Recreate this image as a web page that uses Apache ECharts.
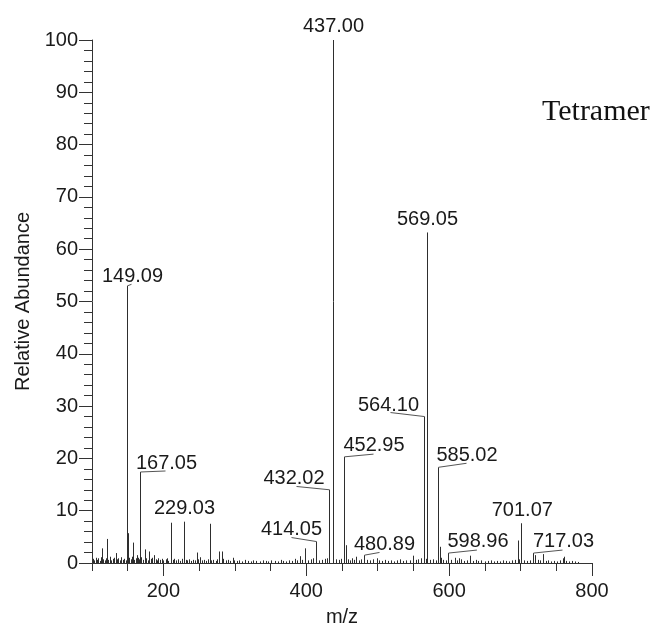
<!DOCTYPE html>
<html>
<head>
<meta charset="utf-8">
<script src="https://cdn.jsdelivr.net/npm/echarts@6/dist/echarts.min.js"></script>
<style>html,body{margin:0;padding:0;background:#fff}#c{width:657px;height:628px}</style>
</head>
<body>
<div id="c"></div>
<script>
// ---------- DATA ----------
const xTickLabels = [200, 400, 600, 800];
const yTickLabels = [0, 10, 20, 30, 40, 50, 60, 70, 80, 90, 100];

// labelled peaks (m/z, relative abundance)
const labeledMz    = [149.09, 167.05, 229.03, 414.05, 432.02, 437.00, 452.95, 480.89, 564.10, 569.05, 585.02, 598.96, 701.07, 717.03];
const labeledAbund = [53.0,   17.4,   7.9,    4.1,    14.0,   100,    20.3,   1.5,    28.0,   63.2,   18.3,   1.9,    7.6,    1.9];

// other visible (unlabelled) peaks
const minorMz    = [114.5, 121, 133, 150.1, 157.5, 162.6, 173.8, 180, 187, 211, 246.7, 265, 278, 281.4, 296.8, 391, 398, 438, 455, 470, 498.4, 545, 549.8, 587, 588.5, 608, 614, 629, 695.7, 720.5, 731, 759, 761];
const minorAbund = [2.8,   4.6, 1.9, 5.7,   3.9,   1.5,   2.6,   2.2, 1.5, 7.7, 2.0,   7.5, 2.2, 2.2,   1.0,   1.3, 2.8, 16,  3.4, 1.2, 0.9,   0.5, 1.4,   3.1, 1.0,   1.0, 0.9, 1.4, 4.3,   1.5,   1.7, 0.9, 1.2];

// baseline noise (grass)
const noiseMz = [101,103,105,107,109,111,113,116,118,120,123,125,127,129,131,135,137,139,141,143,145,147,152,154,156,159,161,164,166,169,171,176,178,182,184,189,191,193,195,198,200,203,205,207,213,215,218,220,223,226,231,233,236,239,241,244,249,251,254,257,259,262,267,270,273,275,284,287,290,293,299,
  303,306,310,314,318,322,326,330,335,339,343,347,351,356,360,364,368,372,376,380,384,387,394,402,406,410,418,422,426,429,441,446,449,458,461,464,467,474,477,485,489,493,502,506,510,514,519,523,527,531,535,540,553,557,561,567,573,577,581,591,595,603,611,617,621,625,633,637,641,645,650,654,658,663,667,671,675,680,684,688,692,698,705,709,713,724,727,735,739,743,747,751,755,764,768,772,776,780];
const noiseAbund = [0.8,0.5,1.0,0.6,0.9,0.4,1.1,0.7,0.5,0.9,0.6,1.2,0.5,0.8,1.0,0.7,0.9,0.5,1.1,0.6,0.8,0.5,1.0,0.7,1.2,0.6,0.9,1.0,0.7,1.1,0.6,0.9,0.5,0.8,1.0,0.7,0.5,0.9,0.6,0.8,0.5,0.7,0.9,0.4,0.6,0.8,0.5,0.7,0.4,0.8,0.6,0.5,0.7,0.4,0.6,0.5,0.7,1.1,0.5,0.6,0.4,0.7,0.5,0.6,0.4,0.7,0.8,0.5,0.6,0.4,0.5,
  0.4,0.5,0.3,0.6,0.4,0.3,0.5,0.4,0.3,0.5,0.4,0.3,0.5,0.4,0.3,0.6,0.4,0.3,0.5,0.4,0.8,0.5,0.6,0.5,0.7,0.9,0.5,0.6,0.8,0.9,0.7,0.6,0.8,0.7,0.5,0.9,0.6,0.5,0.7,0.6,0.5,0.7,0.5,0.4,0.6,0.4,0.5,0.3,0.5,0.7,0.4,0.5,0.6,0.7,0.9,0.8,0.6,0.7,0.5,0.6,0.5,0.6,0.5,0.7,0.4,0.5,0.4,0.6,0.4,0.5,0.3,0.4,0.5,0.3,0.4,0.3,0.5,0.4,0.3,0.5,0.6,0.7,0.5,0.4,0.5,0.6,0.5,0.4,0.5,0.3,0.4,0.3,0.5,0.4,0.3,0.4,0.3,0.2];

// ---------- LAYOUT / STYLE (label placement relative to peak top, px) ----------
const annotationLayout = {
  '149.09': {leader: [4, -1.5],   text: [5, -9.5]},
  '167.05': {leader: [25, -1],    text: [26, -8.5]},
  '229.03': {leader: null,        text: [0, -13.4]},
  '414.05': {leader: [-25, -4],   text: [-25, -11.7]},
  '432.02': {leader: [-33, -3.3], text: [-35.5, -11.3]},
  '437.00': {leader: null,        text: [0, -13.3]},
  '452.95': {leader: [29, -2.7],  text: [29.5, -11.2]},
  '480.89': {leader: [15, -2.7],  text: [20, -11]},
  '564.10': {leader: [-34, -4],   text: [-36, -11.4]},
  '569.05': {leader: null,        text: [0, -12.6]},
  '585.02': {leader: [28, -4],    text: [28.5, -12]},
  '598.96': {leader: [28.4, -3],  text: [29.5, -11.5]},
  '701.07': {leader: null,        text: [0.8, -13]},
  '717.03': {leader: [29, -3],    text: [30, -11.5]}
};

const FONT = '"Liberation Sans", Arial, sans-serif';
const TXT = '#1a1a1a';
const AX = '#333';

const stickData = [];
noiseMz.forEach((m, i) => stickData.push([m, noiseAbund[i]]));
minorMz.forEach((m, i) => stickData.push([m, minorAbund[i]]));
labeledMz.forEach((m, i) => stickData.push([m, labeledAbund[i]]));

const annData = labeledMz.map((m, i) => [m, labeledAbund[i], i]);

const xMin = 100, xMax = xTickLabels[xTickLabels.length - 1];
const yMin = yTickLabels[0], yMax = yTickLabels[yTickLabels.length - 1];

const gridLeft = 92, gridRight = 65, gridTop = 40, gridBottom = 65;
const plotW = 657 - gridLeft - gridRight;
const grid2Left = gridLeft + (xTickLabels[0] - xMin) / (xMax - xMin) * plotW;

const chart = echarts.init(document.getElementById('c'), null, {renderer: 'canvas'});
chart.setOption({
  animation: false,
  backgroundColor: '#fff',
  grid: [
    {left: gridLeft, right: gridRight, top: gridTop, bottom: gridBottom, outerBoundsMode: 'none', containLabel: false},
    {left: grid2Left, right: gridRight, top: gridTop, bottom: gridBottom, outerBoundsMode: 'none', containLabel: false}
  ],
  xAxis: [
    {
      type: 'value', gridIndex: 0, min: xMin, max: xMax, interval: 50,
      name: 'm/z', nameLocation: 'middle', nameGap: 44,
      nameTextStyle: {fontFamily: FONT, fontSize: 20, color: TXT},
      axisLine: {show: true, lineStyle: {color: AX, width: 1}},
      axisTick: {show: true, inside: false, length: 8, lineStyle: {color: AX, width: 1}},
      axisLabel: {show: false},
      splitLine: {show: false}
    },
    {
      type: 'value', gridIndex: 1, min: xTickLabels[0], max: xMax, interval: 200,
      axisLine: {show: false},
      axisTick: {show: true, inside: false, length: 13, lineStyle: {color: AX, width: 1}},
      axisLabel: {show: true, margin: 18, fontFamily: FONT, fontSize: 20, color: TXT},
      splitLine: {show: false}
    }
  ],
  yAxis: [
    {
      type: 'value', gridIndex: 0, min: yMin, max: yMax, interval: 10,
      name: 'Relative Abundance', nameLocation: 'middle', nameGap: 48,
      nameTextStyle: {fontFamily: FONT, fontSize: 20, color: TXT},
      axisLine: {show: true, lineStyle: {color: AX, width: 1}},
      axisTick: {show: true, inside: false, length: 13, lineStyle: {color: AX, width: 1}},
      minorTick: {show: true, splitNumber: 5, length: 8, lineStyle: {color: AX, width: 1}},
      axisLabel: {show: true, margin: 14, fontFamily: FONT, fontSize: 20, color: TXT},
      splitLine: {show: false},
      minorSplitLine: {show: false}
    },
    {
      type: 'value', gridIndex: 1, min: yMin, max: yMax, show: false
    }
  ],
  series: [
    {
      type: 'custom', xAxisIndex: 0, yAxisIndex: 0, clip: false, silent: true,
      data: stickData,
      renderItem: function (params, api) {
        const top = api.coord([api.value(0), api.value(1)]);
        const base = api.coord([api.value(0), 0]);
        const x = Math.round(top[0]) + 0.5;
        return {type: 'line', shape: {x1: x, y1: base[1], x2: x, y2: top[1]},
                style: {stroke: '#2e2e2e', lineWidth: 1}};
      }
    },
    {
      type: 'custom', xAxisIndex: 0, yAxisIndex: 0, clip: false, silent: true,
      data: annData,
      renderItem: function (params, api) {
        const i = api.value(2);
        const txt = labeledMz[i].toFixed(2);
        const lay = annotationLayout[txt];
        const p = api.coord([api.value(0), api.value(1)]);
        const px = Math.round(p[0]) + 0.5, py = p[1];
        const children = [];
        if (lay.leader) {
          children.push({type: 'line', shape: {x1: px, y1: py, x2: px + lay.leader[0], y2: py + lay.leader[1]},
                         style: {stroke: '#555', lineWidth: 1}});
        }
        children.push({type: 'text', x: px + lay.text[0], y: py + lay.text[1],
                       style: {text: txt, fill: TXT, font: '20px ' + FONT, align: 'center', verticalAlign: 'middle'}});
        return {type: 'group', children: children};
      }
    }
  ],
  graphic: [
    {type: 'text', left: 542, top: 97,
     style: {text: 'Tetramer', fill: '#111', font: '30px "Liberation Serif", "Times New Roman", serif'}}
  ]
});
</script>
</body>
</html>
